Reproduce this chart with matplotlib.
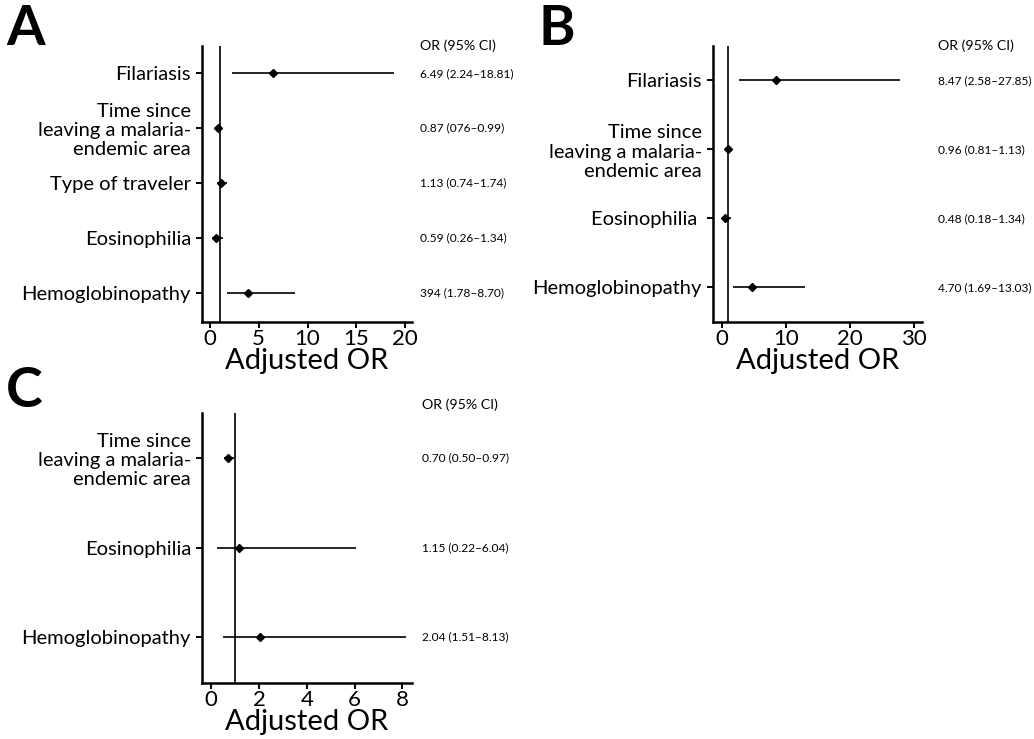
import numpy as np
import matplotlib
matplotlib.use('Agg')
import matplotlib.pyplot as plt

plt.rcParams['font.family'] = ['Lato', 'DejaVu Sans']

# panel A
labels_a = ['Filariasis', 'Time since\nleaving a malaria-\nendemic area', 'Type of traveler',
            'Eosinophilia', 'Hemoglobinopathy']
or_a = [6.49, 0.87, 1.13, 0.59, 3.94]
lo_a = [2.24, 0.76, 0.74, 0.26, 1.78]
hi_a = [18.81, 0.99, 1.74, 1.34, 8.70]
txt_a = ['6.49 (2.24–18.81)', '0.87 (076–0.99)', '1.13 (0.74–1.74)', '0.59 (0.26–1.34)', '394 (1.78–8.70)']

# panel B
labels_b = ['Filariasis', 'Time since\nleaving a malaria-\nendemic area', 'Eosinophilia ', 'Hemoglobinopathy']
or_b = [8.47, 0.96, 0.48, 4.70]
lo_b = [2.58, 0.81, 0.18, 1.69]
hi_b = [27.85, 1.13, 1.34, 13.03]
txt_b = ['8.47 (2.58–27.85)', '0.96 (0.81–1.13)', '0.48 (0.18–1.34)', '4.70 (1.69–13.03)']

# panel C (CI lines as drawn)
labels_c = ['Time since\nleaving a malaria-\nendemic area', 'Eosinophilia', 'Hemoglobinopathy']
or_c = [0.70, 1.15, 2.04]
lo_c = [0.55, 0.25, 0.50]
hi_c = [0.97, 6.04, 8.13]
txt_c = ['0.70 (0.50–0.97)', '1.15 (0.22–6.04)', '2.04 (1.51–8.13)']

fig = plt.figure(figsize=(10.34, 7.39), dpi=100)

panels = [
    # letter, rect, labels, or, lo, hi, txt, xlim, xticks, ylim, text offset px, letter pos, header y
    ('A', [0.1954, 0.5643, 0.2031, 0.3735], labels_a, or_a, lo_a, hi_a, txt_a,
     (-0.8, 20.7), [0, 5, 10, 15, 20], (0.47, 5.5), 8, (0.006, 0.995), 1.0),
    ('B', [0.6896, 0.5643, 0.2021, 0.3735], labels_b, or_b, lo_b, hi_b, txt_b,
     (-1.4, 31.25), [0, 10, 20, 30], (0.5, 4.5), 16, (0.521, 0.995), 1.0),
    ('C', [0.1954, 0.0758, 0.2031, 0.3653], labels_c, or_c, lo_c, hi_c, txt_c,
     (-0.38, 8.4), [0, 2, 4, 6, 8], (0.49, 3.5), 10, (0.006, 0.505), 1.03),
]

for letter, rect, labs, ors, los, his, txts, xl, xt, yl, off, lpos, hy in panels:
    ax = fig.add_axes(rect)
    n = len(labs)
    y = np.arange(n, 0, -1)
    ax.axvline(1, color='black', lw=1.2, zorder=1)
    ax.hlines(y, los, his, color='black', lw=1.2, zorder=2)
    ax.plot(ors, y, 'D', color='black', ms=4.5, zorder=3)
    ax.set_xlim(*xl)
    ax.set_ylim(*yl)
    ax.set_xticks(xt)
    ax.set_yticks(y)
    ax.set_yticklabels(labs, fontsize=14.5, linespacing=1.15)
    ax.tick_params(axis='x', labelsize=16, pad=1)
    ax.tick_params(axis='both', width=1.4, length=4, color='black')
    ax.tick_params(axis='y', pad=4)
    for s in ['top', 'right']:
        ax.spines[s].set_visible(False)
    for s in ['left', 'bottom']:
        ax.spines[s].set_linewidth(1.8)
    ax.set_xlabel('Adjusted OR', fontsize=21, labelpad=-1)
    for yy, t in zip(y, txts):
        ax.annotate(t, xy=(1, yy), xycoords=('axes fraction', 'data'),
                    xytext=(off * 0.72, 0), textcoords='offset points',
                    ha='left', va='center', fontsize=8.6)
    ax.annotate('OR (95% CI)', xy=(1, hy), xycoords='axes fraction',
                xytext=(off * 0.72, 0), textcoords='offset points',
                ha='left', va='center', fontsize=10.2)
    fig.text(lpos[0], lpos[1], letter, fontsize=40, fontweight='bold',
             ha='left', va='top')

fig.savefig('out.png', dpi=100)
